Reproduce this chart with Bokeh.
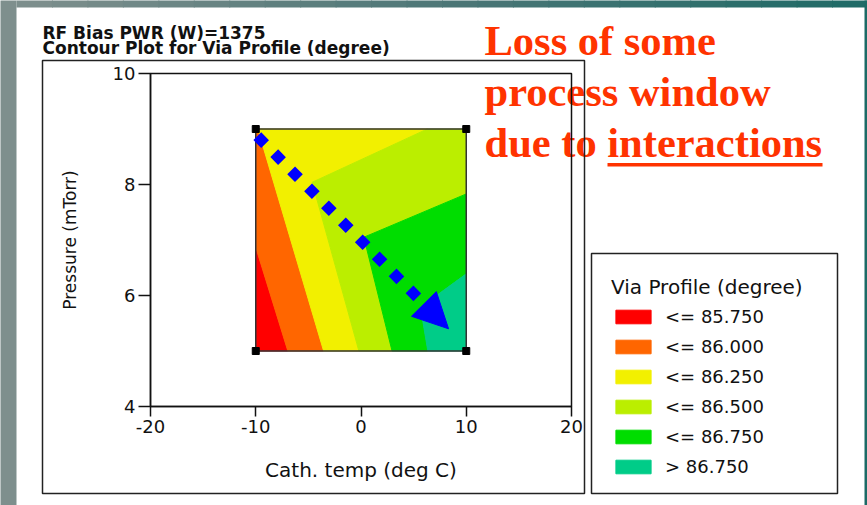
from bokeh.plotting import figure
from bokeh.models import (Range1d, FixedTicker, Label, BoxAnnotation, Arrow, NormalHead,
                          LinearAxis)
from bokeh.embed import file_html
from bokeh.resources import INLINE

# ---------------- data ----------------
title_lines = ["RF Bias PWR (W)=1375", "Contour Plot for Via Profile (degree)"]
note_lines = ["Loss of some", "process window", "due to interactions"]
x_label = "Cath. temp (deg C)"
y_label = "Pressure (mTorr)"
legend_title = "Via Profile (degree)"

x_ticks = [-20, -10, 0, 10, 20]
x_tick_labels = ["-20", "-10", "0", "10", "20"]
y_ticks = [4, 6, 8, 10]
y_tick_labels = ["4", "6", "8", "10"]

band_labels = ["<= 85.750", "<= 86.000", "<= 86.250", "<= 86.500", "<= 86.750", "> 86.750"]
band_colors = ["#ff0000", "#ff6600", "#f2f000", "#bbee00", "#00dd00", "#00cc88"]

# contour band polygons (Cath. temp, Pressure)
red_x = [-10, -6.95, -10]
red_y = [5, 5, 6.87]
orange_x = [-10, -6.95, -3.55, -9.8, -10]
orange_y = [6.87, 5, 5, 9, 9]
yellow_x = [-9.8, -3.55, -0.2, -4.64, 6.3]
yellow_y = [9, 5, 5, 8.04, 9]
ygreen_x = [6.3, -4.64, -0.2, 2.95, 0.27, 10, 10]
ygreen_y = [9, 8.04, 5, 5, 7.05, 7.83, 9]
green_x = [10, 0.27, 2.95, 6.35, 5.65, 10]
green_y = [7.83, 7.05, 5, 5, 5.79, 6.39]
teal_x = [10, 5.65, 6.35, 10]
teal_y = [6.39, 5.79, 5, 5]

design_x = [-10, 10, 10, -10]
design_y = [5, 5, 9, 9]

arrow_start = (-9.85, 8.87)
arrow_end = (8.32, 5.40)

band_xs = [red_x, orange_x, yellow_x, ygreen_x, green_x, teal_x]
band_ys = [red_y, orange_y, yellow_y, ygreen_y, green_y, teal_y]

# ---------------- layout (pixels) ----------------
W, H = 867, 505
frame_l, frame_r, frame_t, frame_b = 150, 571, 73, 406   # plot area in the canvas
xmin, xmax = x_ticks[0], x_ticks[-1]
ymin, ymax = y_ticks[0], y_ticks[-1]
sx = (frame_r - frame_l) / (xmax - xmin)
sy = (frame_b - frame_t) / (ymax - ymin)
x_range = Range1d(xmin - frame_l / sx, xmax + (W - frame_r) / sx)
y_range = Range1d(ymin - (H - frame_b) / sy, ymax + frame_t / sy)

p = figure(width=W, height=H, x_range=x_range, y_range=y_range,
           output_backend="svg", toolbar_location=None, title=None,
           x_axis_location=None, y_axis_location=None, min_border=0)
p.background_fill_color = "white"
p.border_fill_color = "white"
p.outline_line_color = None
p.xgrid.visible = False
p.ygrid.visible = False


def cbox(l, r, t, b, **kw):
    kw.setdefault("fill_alpha", 1)
    kw.setdefault("line_alpha", 1)
    return BoxAnnotation(left=l, right=r, top=t, bottom=b,
                         left_units="canvas", right_units="canvas",
                         top_units="canvas", bottom_units="canvas", **kw)


# slide decoration
def mix(c1, c2, t):
    return "#%02x%02x%02x" % tuple(int(round(a + (b - a) * t)) for a, b in zip(c1, c2))


c_left, c_mid, c_right = (126, 143, 141), (77, 119, 119), (30, 106, 102)
nseg = 24
for i in range(nseg):
    l = 16 + (W - 16) * i / nseg
    r = 16 + (W - 16) * (i + 1) / nseg + 1
    t = (i + 0.5) / nseg
    col = mix(c_left, c_mid, t * 2) if t < 0.5 else mix(c_mid, c_right, (t - 0.5) * 2)
    p.add_layout(cbox(l, r, -2, 7, fill_color=col, line_color=None))
p.add_layout(cbox(-2, 16, -2, H + 2, fill_color="#7e8f8d", line_color=None))
p.add_layout(cbox(864, W + 2, -2, H + 2, fill_color="#1c6a66", line_color=None))

# contour bands
for xs, ys, c, lbl in zip(band_xs, band_ys, band_colors, band_labels):
    p.patch(xs, ys, fill_color=c, line_color=c, line_width=1, legend_label=lbl)

p.quad(left=min(design_x), right=max(design_x), bottom=min(design_y), top=max(design_y),
       fill_color=None, line_color="#333333", line_width=1.5)
p.scatter(design_x, design_y, marker="square", size=7, color="black")

p.add_layout(Arrow(x_start=arrow_start[0], y_start=arrow_start[1],
                   x_end=arrow_end[0], y_end=arrow_end[1],
                   line_color="#0000ff", line_width=11, line_dash="11 13",
                   end=NormalHead(size=35, fill_color="#0000ff", line_color="#0000ff", line_width=1)))

# axes
xaxis = LinearAxis(fixed_location=ymin, bounds=(xmin, xmax),
                   ticker=FixedTicker(ticks=x_ticks),
                   major_label_overrides=dict(zip(x_ticks, x_tick_labels)))
yaxis = LinearAxis(fixed_location=xmin, bounds=(ymin, ymax),
                   ticker=FixedTicker(ticks=y_ticks),
                   major_label_overrides=dict(zip(y_ticks, y_tick_labels)))
p.add_layout(xaxis, "below")
p.add_layout(yaxis, "left")
for ax, tout in ((xaxis, 10), (yaxis, 12)):
    ax.minor_tick_line_color = None
    ax.major_tick_in = 0
    ax.major_tick_out = tout
    ax.major_tick_line_width = 1.5
    ax.axis_line_width = 1.5
    ax.major_tick_line_color = "#111111"
    ax.axis_line_color = "#111111"
    ax.major_label_text_font = "DejaVu Sans"
    ax.major_label_text_font_size = "18px"
    ax.major_label_text_color = "#111111"
    ax.axis_label_text_font = "DejaVu Sans"
    ax.axis_label_text_font_style = "normal"
    ax.axis_label_text_color = "#111111"
    ax.major_label_standoff = 3
xaxis.axis_label = x_label
yaxis.axis_label = y_label
xaxis.axis_label_text_font_size = "20px"
yaxis.axis_label_text_font_size = "17px"
xaxis.axis_label_standoff = 22
yaxis.axis_label_standoff = 30

# legend frame (drawn separately) and legend
p.add_layout(cbox(591, 837, 253, 493, fill_color="white", line_color="#222222", line_width=1.5))
lg = p.legend[0]
lg.location = (611, H - 477)
lg.title = legend_title
lg.title_text_font = "DejaVu Sans"
lg.title_text_font_style = "normal"
lg.title_text_font_size = "20px"
lg.title_text_color = "#111111"
lg.label_text_font = "DejaVu Sans"
lg.label_text_font_size = "18px"
lg.label_text_color = "#111111"
lg.border_line_color = None
lg.background_fill_alpha = 0
lg.padding = 0
lg.spacing = 9
lg.glyph_width = 44
lg.glyph_height = 17
lg.label_height = 20
lg.label_standoff = 10
lg.title_standoff = 7
lg.margin = 0

# titles
for txt, yb in zip(title_lines, [32, 47]):
    p.add_layout(Label(x=42, y=yb, x_units="canvas", y_units="canvas", text=txt,
                       text_font="DejaVu Sans", text_font_style="bold", text_font_size="17px",
                       text_baseline="alphabetic", text_color="#111111"))

# red note
for txt, yb in zip(note_lines, [40, 91, 142]):
    p.add_layout(Label(x=484, y=yb, x_units="canvas", y_units="canvas", text=txt,
                       text_font="Liberation Serif", text_font_style="bold", text_font_size="42.5px",
                       text_baseline="alphabetic", text_color="#ff3300"))
p.add_layout(cbox(607, 822, 162.5, 166, fill_color="#ff3300", line_color=None))

# plot frame (top / right edges) and outer chart box, drawn over the note
p.add_layout(BoxAnnotation(left=xmin, right=xmax, bottom=ymin, top=ymax,
                           fill_color=None, line_color="#111111", line_alpha=1, line_width=1.5))
p.add_layout(cbox(42, 584, 60, 493, fill_color=None, line_color="#222222", line_width=1.5))

open("out.html", "w").write(file_html(p, INLINE))
